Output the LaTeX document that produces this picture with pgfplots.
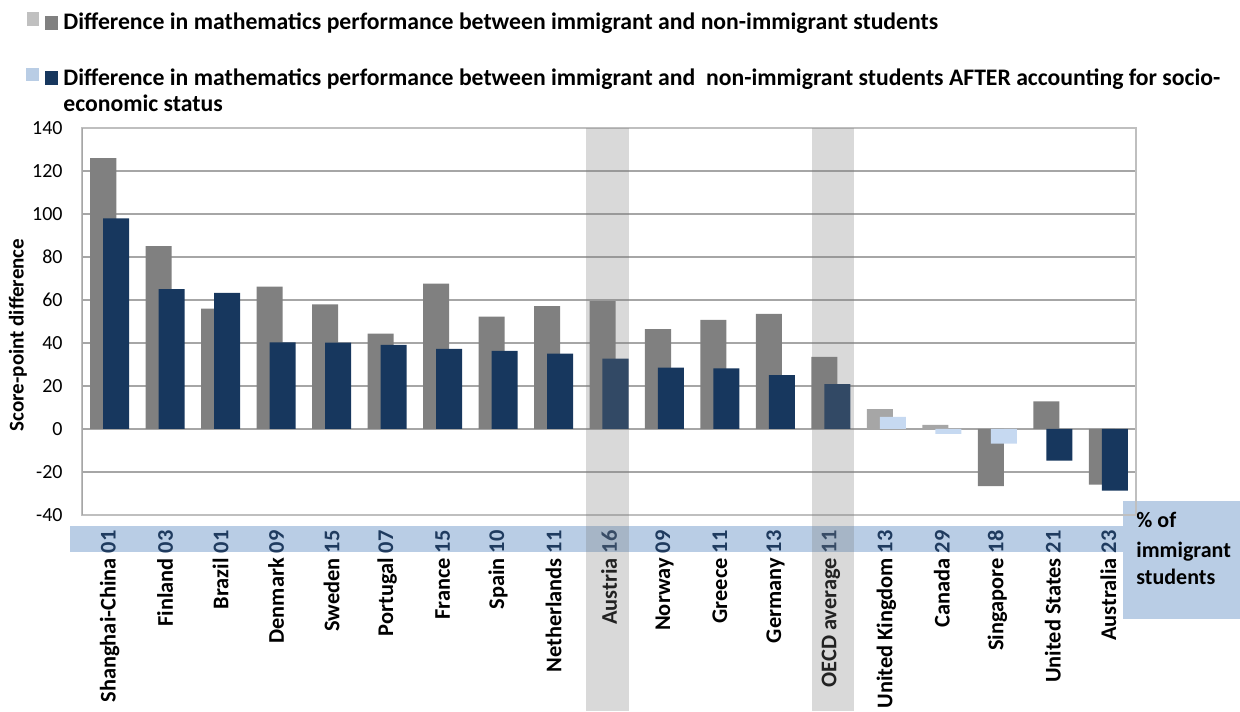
\documentclass[border=0pt]{standalone}
\usepackage{pgfplots}
\pgfplotsset{compat=1.18}
\usepackage{fontspec}
\setmainfont{Carlito}
\definecolor{greyD}{HTML}{808080}
\definecolor{greyL}{HTML}{A6A6A6}
\definecolor{blueD}{HTML}{17375E}
\definecolor{blueL}{HTML}{C6D9F1}
\definecolor{legGreyL}{HTML}{C0C0C0}
\definecolor{legBlueL}{HTML}{B9CDE5}
\definecolor{bandc}{HTML}{B9CDE5}
\definecolor{gridc}{HTML}{A6A6A6}
\definecolor{framec}{HTML}{BFBFBF}
\definecolor{numc}{HTML}{1F3B5F}
\definecolor{overc}{HTML}{797979}
\tikzset{px/.style={x=0.5pt,y=-0.5pt,shift={(-41pt,257.5pt)}}}
\begin{document}
\begin{tikzpicture}
\useasboundingbox[px] (0,0) rectangle (1240,711);
% band behind the tick labels and box
\fill[bandc,px] (70,526) rectangle (1123,552);
\fill[bandc,px] (1123,501) rectangle (1240,619);
\begin{scope}[px]
\node[anchor=base west,inner sep=0pt,font=\bfseries\fontsize{11}{13}\selectfont] at (1136,528) {\% of};
\node[anchor=base west,inner sep=0pt,font=\bfseries\fontsize{11}{13}\selectfont] at (1136,557) {immigrant};
\node[anchor=base west,inner sep=0pt,font=\bfseries\fontsize{11}{13}\selectfont] at (1136,584) {students};
% legend
\fill[legGreyL] (27,12) rectangle (39,26);
\fill[greyD] (45,16) rectangle (58,30);
\node[anchor=base west,inner sep=0pt,font=\bfseries\fontsize{11.85}{14}\selectfont] at (63,30) {Difference in mathematics performance between immigrant and non-immigrant students};
\fill[legBlueL] (26,68) rectangle (39,81);
\fill[blueD] (45,71) rectangle (58,85);
\node[anchor=base west,inner sep=0pt,font=\bfseries\fontsize{11.85}{14}\selectfont] at (63,86) {Difference in mathematics performance between immigrant and~ non-immigrant students AFTER accounting for socio-};
\node[anchor=base west,inner sep=0pt,font=\bfseries\fontsize{11.85}{14}\selectfont] at (63,112) {economic status};
\node[rotate=90,inner sep=0pt,font=\bfseries\fontsize{10.5}{12}\selectfont] at (18,335) {Score-point difference};
\end{scope}
\begin{axis}[
  at={(0pt,0pt)}, anchor=south west,
  scale only axis, width=527pt, height=193.5pt,
  xmin=-0.5, xmax=18.5, ymin=-40, ymax=140,
  ytick={-40,-20,...,140},
  yticklabels={-40,-20,0,20,40,60,80,100,120,140},
  xtick={0,...,18},
  xticklabels={
    {Shanghai-China \textcolor{numc}{01}},
    {Finland \textcolor{numc}{03}},
    {Brazil \textcolor{numc}{01}},
    {Denmark \textcolor{numc}{09}},
    {Sweden \textcolor{numc}{15}},
    {Portugal \textcolor{numc}{07}},
    {France \textcolor{numc}{15}},
    {Spain \textcolor{numc}{10}},
    {Netherlands \textcolor{numc}{11}},
    {Austria \textcolor{numc}{16}},
    {Norway \textcolor{numc}{09}},
    {Greece \textcolor{numc}{11}},
    {Germany \textcolor{numc}{13}},
    {OECD average \textcolor{numc}{11}},
    {United Kingdom \textcolor{numc}{13}},
    {Canada \textcolor{numc}{29}},
    {Singapore \textcolor{numc}{18}},
    {United States \textcolor{numc}{21}},
    {Australia \textcolor{numc}{23}}},
  major tick length=0pt,
  ymajorgrids, grid style={draw=gridc, line width=0.6pt},
  axis line style={draw=framec, line width=0.6pt},
  yticklabel style={inner sep=0pt, xshift=-9.5pt, font=\fontsize{10}{12}\selectfont},
  xticklabel shift=7.5pt,
  xticklabel style={rotate=90, anchor=east, inner sep=0pt, font=\bfseries\fontsize{11.2}{14}\selectfont},
  bar width=0.469,
]
\addplot[ybar, bar shift=-0.117, fill=greyD, draw=none] coordinates {
 (0,126) (1,85) (2,56) (3,66.2) (4,58) (5,44.4) (6,67.6) (7,52.3) (8,57.2)
 (9,59.5) (10,46.4) (11,50.8) (12,53.6) (13,33.5) (16,-26.6) (17,12.9) (18,-25.9)};
\addplot[ybar, bar shift=-0.117, fill=greyL, draw=none] coordinates {
 (14,9.3) (15,1.9)};
\addplot[ybar, bar shift=0.117, fill=blueD, draw=none] coordinates {
 (0,98) (1,65) (2,63.3) (3,40.3) (4,40.2) (5,39.1) (6,37.3) (7,36.3) (8,35.1)
 (9,32.7) (10,28.5) (11,28.2) (12,25) (13,20.9) (17,-14.7) (18,-28.7)};
\addplot[ybar, bar shift=0.117, fill=blueL, draw=none] coordinates {
 (14,5.6) (15,-2.3) (16,-6.8)};
\draw[gridc, line width=0.6pt] (rel axis cs:0,0) -- (rel axis cs:0,1);
\end{axis}
% translucent highlight bands
\fill[px, overc, opacity=0.284] (586,128) rectangle (629,711);
\fill[px, overc, opacity=0.284] (812,128) rectangle (854,711);
\end{tikzpicture}
\end{document}
